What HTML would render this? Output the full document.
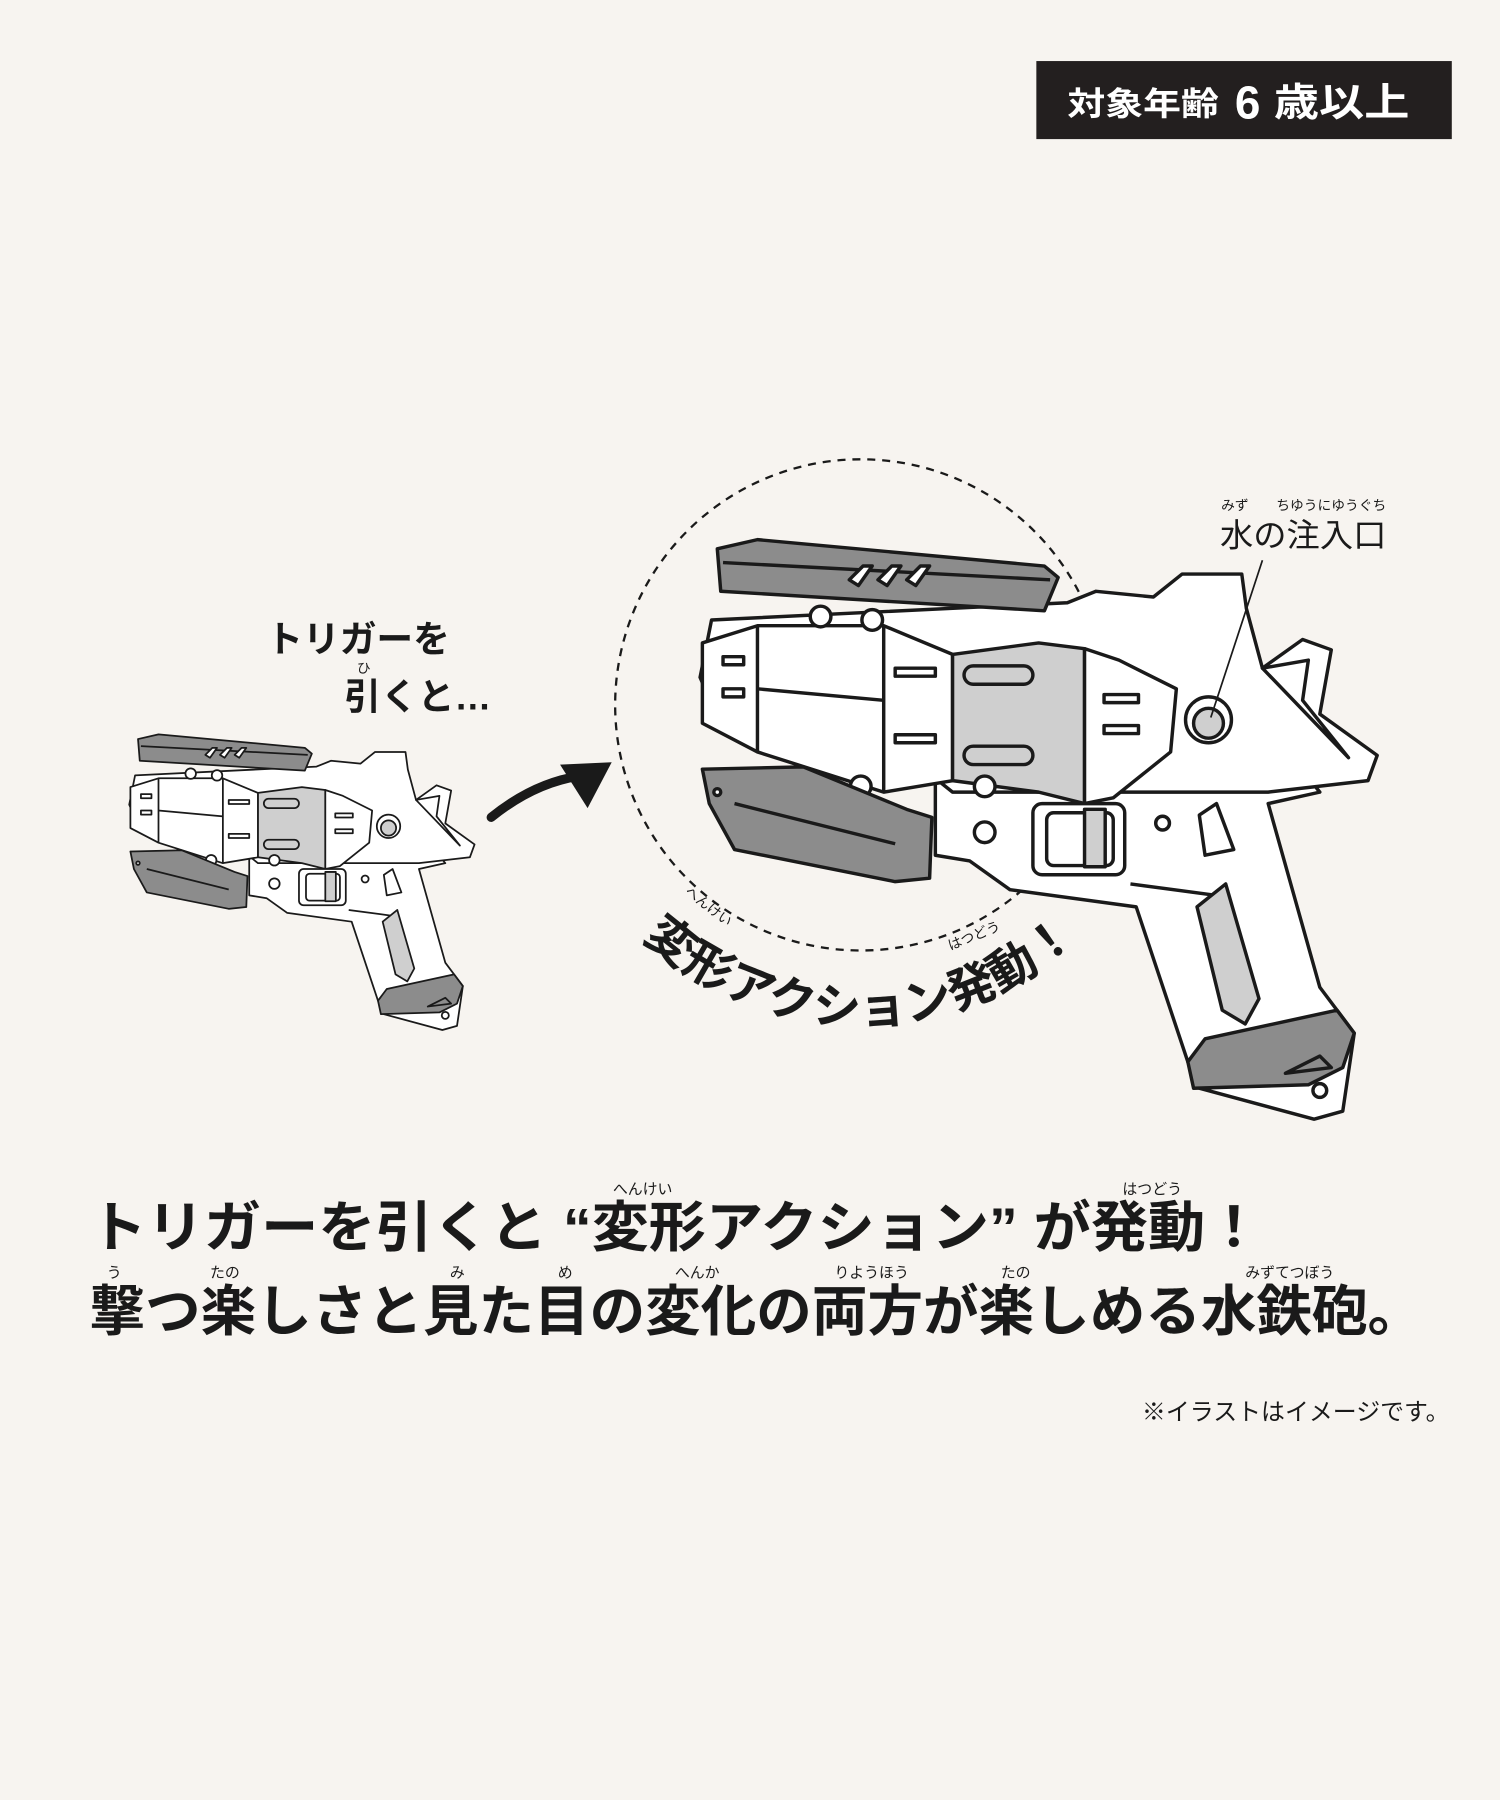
<!DOCTYPE html>
<html><head><meta charset="utf-8"><style>
html,body{margin:0;padding:0;background:#f7f4f0;}
svg{display:block;}
text{font-family:"Liberation Sans","Noto Sans CJK JP",sans-serif;}
</style></head><body>
<svg width="1500" height="1800" viewBox="0 0 1307 1568" xmlns="http://www.w3.org/2000/svg">
<rect width="1307" height="1568" fill="#f7f4f0"/>
<defs>
<g id="gun" stroke="#1a1a1a" stroke-width="3" stroke-linejoin="round">
  <polygon fill="#fff" points="815,640 1110,640 1150,690 1105,700 1150,860 1180,900 1170,968 1145,975 1045,948 1035,925 990,790 880,775 845,750 815,745"/>
  <polygon fill="#fff" points="620,540 930,525 955,515 1005,520 1030,500 1082,500 1086,530 1100,582 1135,557 1160,566 1150,622 1200,658 1192,680 1105,690 1030,690 830,690 780,650 625,625 610,590"/>
  <polygon fill="none" points="1100,582 1140,575 1135,610 1175,660"/>
  <polygon fill="#fff" points="612,560 660,545 770,545 830,570 830,680 770,690 660,655 612,630"/>
  <line x1="660" y1="545" x2="660" y2="655"/>
  <line x1="770" y1="545" x2="770" y2="690"/>
  <line x1="660" y1="600" x2="770" y2="610"/>
  <rect x="630" y="572" width="18" height="7" fill="#fff"/>
  <rect x="630" y="600" width="18" height="7" fill="#fff"/>
  <rect x="780" y="582" width="35" height="7" fill="#fff"/>
  <rect x="780" y="640" width="35" height="7" fill="#fff"/>
  <polygon fill="#cfcfcf" points="830,570 905,560 945,565 945,700 905,690 830,680"/>
  <rect x="840" y="580" width="60" height="16" rx="8" fill="#cfcfcf"/>
  <rect x="840" y="650" width="60" height="16" rx="8" fill="#cfcfcf"/>
  <polygon fill="#fff" points="945,565 975,575 1025,600 1020,655 970,695 945,700"/>
  <rect x="962" y="605" width="30" height="7" fill="#fff"/>
  <rect x="962" y="632" width="30" height="7" fill="#fff"/>
  <circle cx="1053" cy="627" r="20" fill="#fff"/>
  <circle cx="1053" cy="630" r="13" fill="#cfcfcf"/>
  <polygon fill="#8c8c8c" points="625,478 660,470 910,493 922,503 910,532 628,515"/>
  <line x1="630" y1="490" x2="915" y2="505"/>
  <polygon fill="#fff" points="740,505 752,493 760,493 748,510"/>
  <polygon fill="#fff" points="765,505 777,493 785,493 773,510"/>
  <polygon fill="#fff" points="790,505 802,493 810,493 798,510"/>
  <circle cx="715" cy="537" r="9" fill="#fff"/>
  <circle cx="760" cy="540" r="9" fill="#fff"/>
  <circle cx="710" cy="682" r="9" fill="#fff"/>
  <circle cx="750" cy="685" r="9" fill="#fff"/>
  <polygon fill="#8c8c8c" points="612,670 700,668 790,705 812,712 810,765 780,768 640,740 618,700"/>
  <line x1="640" y1="700" x2="780" y2="735"/>
  <circle cx="625" cy="690" r="3" fill="#fff"/>
  <circle cx="858" cy="685" r="9" fill="#fff"/>
  <circle cx="858" cy="725" r="9" fill="#fff"/>
  <circle cx="1013" cy="717" r="6" fill="#fff"/>
  <polygon fill="#fff" points="1045,710 1060,700 1075,740 1050,745"/>
  <rect x="900" y="700" width="80" height="62" rx="8" fill="#fff"/>
  <rect x="912" y="708" width="58" height="46" rx="6" fill="#fff"/>
  <rect x="945" y="705" width="18" height="50" fill="#cfcfcf"/>
  <line x1="985" y1="770" x2="1060" y2="780"/>
  <polygon fill="#cfcfcf" points="1043,790 1068,770 1097,870 1085,892 1065,880"/>
  <polygon fill="#8c8c8c" points="1035,925 1050,905 1165,880 1180,900 1170,930 1140,945 1040,948"/>
  <polygon fill="none" points="1120,935 1150,920 1160,930"/>
  <circle cx="1150" cy="950" r="6" fill="#fff"/>
</g>
</defs>

<rect x="903" y="53" width="362" height="68" fill="#231f1f"/>
<text x="930" y="100" fill="#fff" font-size="28" font-weight="bold" textLength="132" lengthAdjust="spacingAndGlyphs">対象年齢</text>
<text x="1076" y="103" fill="#fff" font-size="40" font-weight="bold">6</text>
<text x="1110" y="101" fill="#fff" font-size="34" font-weight="bold" textLength="118" lengthAdjust="spacingAndGlyphs">歳以上</text>

<circle cx="750" cy="614" r="214" fill="none" stroke="#1a1a1a" stroke-width="2" stroke-dasharray="7,6"/>

<use href="#gun"/>
<use href="#gun" transform="translate(-198.5,400) scale(0.51)"/>

<path d="M428,712 Q465,682 505,676" fill="none" stroke="#1a1a1a" stroke-width="8" stroke-linecap="round"/>
<polygon points="533,664 488,666 512,704" fill="#1a1a1a"/>

<text x="232" y="568" font-size="32" font-weight="bold" fill="#1a1a1a">トリガーを</text>
<text x="311" y="586" font-size="12" fill="#1a1a1a">ひ</text>
<text x="300" y="618" font-size="32" font-weight="bold" fill="#1a1a1a">引くと…</text>

<text x="1064" y="444" font-size="12" fill="#1a1a1a">みず</text>
<text x="1112" y="444" font-size="12" fill="#1a1a1a">ちゆうにゆうぐち</text>
<text x="1063" y="476" font-size="28" fill="#1a1a1a" textLength="145" lengthAdjust="spacingAndGlyphs">水の注入口</text>
<line x1="1100" y1="488" x2="1055" y2="625" stroke="#1a1a1a" stroke-width="1.5"/>

<path id="arc" d="M509,753 A278,278 0 0 0 991,753" fill="none"/>
<text font-size="42" font-weight="bold" fill="#1a1a1a"><textPath href="#arc" startOffset="50%" text-anchor="middle">変形アクション発動！</textPath></text>
<text x="596" y="778" font-size="12" fill="#1a1a1a" transform="rotate(38 596 778)">へんけい</text>
<text x="828" y="828" font-size="12" fill="#1a1a1a" transform="rotate(-22 828 828)">はつどう</text>

<text x="534" y="1040" font-size="13" fill="#1a1a1a">へんけい</text>
<text x="978" y="1040" font-size="13" fill="#1a1a1a">はつどう</text>
<text x="78" y="1086" font-size="48" font-weight="bold" fill="#1a1a1a" textLength="1022" lengthAdjust="spacingAndGlyphs">トリガーを引くと “変形アクション” が発動！</text>

<g font-size="13" fill="#1a1a1a">
<text x="93" y="1113">う</text>
<text x="183" y="1113">たの</text>
<text x="392" y="1113">み</text>
<text x="486" y="1113">め</text>
<text x="588" y="1113">へんか</text>
<text x="727" y="1113">りようほう</text>
<text x="872" y="1113">たの</text>
<text x="1085" y="1113">みずてつぼう</text>
</g>
<text x="78" y="1159" font-size="48" font-weight="bold" fill="#1a1a1a" textLength="1162" lengthAdjust="spacingAndGlyphs">撃つ楽しさと見た目の変化の両方が楽しめる水鉄砲。</text>

<text x="995" y="1237" font-size="21" fill="#1a1a1a" textLength="268" lengthAdjust="spacingAndGlyphs">※イラストはイメージです。</text>
</svg>
</body></html>
